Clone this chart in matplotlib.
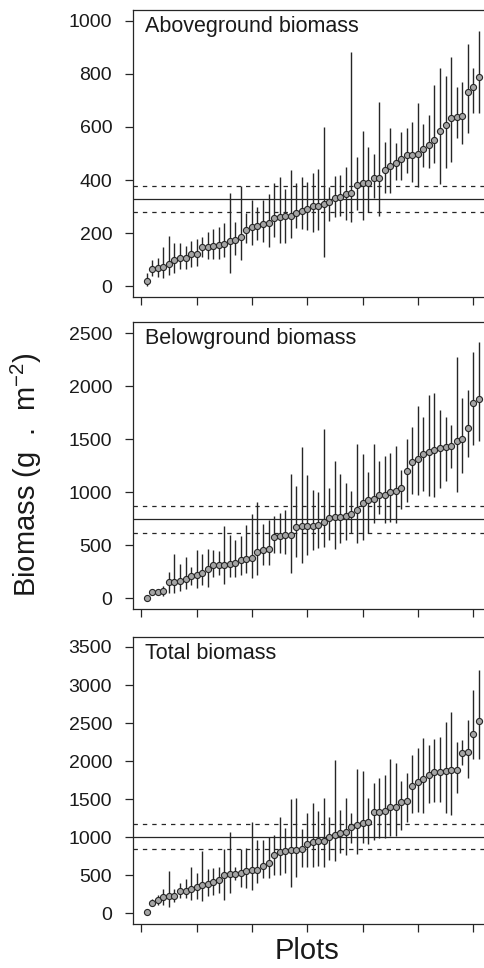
import numpy as np
import matplotlib
matplotlib.use("Agg")
import matplotlib.pyplot as plt

plt.rcParams['font.family'] = ['Liberation Sans', 'DejaVu Sans']
plt.rcParams['mathtext.fontset'] = 'custom'
plt.rcParams['mathtext.rm'] = 'Liberation Sans'

# ---- data ----
plots = list(range(1, 62))

above_mean = [19,63,69,72,84,98,106,106,121,122,
              147,148,152,156,157,171,174,186,211,221,
              228,234,236,258,262,265,265,274,283,292,
              303,303,311,317,332,336,347,350,382,387,
              390,409,409,438,454,464,481,493,496,499,
              517,533,551,585,606,634,639,642,730,752,787]
above_lo = [0,38,35,29,40,50,63,63,73,75,
            111,101,101,101,108,50,117,98,164,155,
            174,166,148,186,161,164,180,218,214,212,
            204,211,111,245,262,264,249,243,287,249,
            280,334,265,352,350,400,400,425,394,375,
            450,444,463,384,444,469,557,536,578,654,651]
above_hi = [48,98,107,148,189,161,164,151,171,179,
            184,204,214,221,236,350,243,379,277,325,
            297,325,347,387,413,365,438,390,413,394,
            428,440,601,375,416,418,450,884,488,586,
            526,498,693,544,595,538,580,597,617,692,
            610,644,758,821,793,863,752,771,912,821,960]

below_mean = [5,63,63,69,151,157,167,186,208,217,
              239,274,311,311,311,321,330,362,368,377,
              440,456,462,575,591,601,601,670,682,682,
              686,692,717,761,767,767,780,796,833,896,
              928,934,972,978,1006,1016,1044,1201,1289,1311,
              1358,1384,1399,1421,1431,1437,1484,1506,1610,1846,1884]
below_lo = [0,41,41,22,47,47,72,85,126,94,
            126,110,204,220,135,204,204,220,236,189,
            220,314,314,425,425,418,236,387,336,409,
            456,472,487,550,462,525,550,619,525,550,
            619,708,796,708,723,714,840,912,984,975,
            1016,965,959,1044,1110,1226,1006,1179,1330,1447,1487]
below_hi = [10,85,90,116,252,418,324,387,292,456,
            418,462,456,450,686,597,550,588,692,796,
            906,701,739,780,802,833,1173,1060,1431,1164,
            1022,1006,1597,1044,1299,1173,1091,1013,1453,1358,
            1189,1453,1299,1346,1368,1437,1211,1500,1613,1814,
            1714,1918,1934,1777,1708,1635,2274,1893,1965,2321,2415]

total_mean = [22,140,175,210,227,227,293,293,319,346,
              372,381,416,437,503,512,516,525,560,573,
              573,626,656,761,812,820,831,836,849,910,
              941,949,949,1006,1028,1050,1072,1129,1159,1190,
              1199,1330,1330,1347,1400,1400,1466,1474,1671,1732,
              1767,1824,1855,1859,1864,1877,1890,2113,2126,2354,2529]
total_lo = [0,96,109,109,87,153,197,197,175,184,
            162,227,241,271,175,262,437,350,328,306,
            394,459,459,503,503,525,350,472,613,604,
            613,621,604,700,691,787,766,919,779,927,
            910,962,984,984,1015,1015,1094,1203,1312,1334,
            1321,1452,1466,1466,1321,1291,1575,1947,1772,2034,2034]
total_hi = [45,184,241,315,560,315,394,446,604,534,
            822,578,599,604,840,1072,613,840,853,1203,
            963,963,1006,1028,1269,1116,1500,1522,1102,1312,
            1452,1347,1518,1260,2021,1356,1518,1321,1894,1872,
            1518,1715,1772,1816,2034,1969,1741,1846,2087,2166,
            2305,2209,2297,2319,2516,2647,2253,2275,2546,2931,3202]

# overall mean and confidence interval (mean, lower, upper)
above_ref = [328, 280, 378]
below_ref = [745, 619, 868]
total_ref = [1005, 848, 1172]

titles = ["Aboveground biomass", "Belowground biomass", "Total biomass"]
yticks = [list(range(0, 1001, 200)), list(range(0, 2501, 500)), list(range(0, 3501, 500))]
ylims = [(-40, 1041), (-101, 2604), (-140, 3635)]
xticks = [0, 10, 20, 30, 40, 50, 60]

# ---- figure ----
W, H = 484, 968
fig = plt.figure(figsize=(W/100, H/100), dpi=100)
fig.patch.set_facecolor('white')

left_px, right_px = 133, 492
panels_px = [(10, 296.7), (322.3, 609), (636.7, 924)]

series = [(above_mean, above_lo, above_hi, above_ref),
          (below_mean, below_lo, below_hi, below_ref),
          (total_mean, total_lo, total_hi, total_ref)]

dark = '#262626'
txt = '#1a1a1a'
for i, ((top, bot), (m, lo, hi, ref)) in enumerate(zip(panels_px, series)):
    ax = fig.add_axes([left_px/W, 1 - bot/H, (right_px-left_px)/W, (bot-top)/H])
    m = np.array(m, dtype=float)
    lo = np.array(lo, dtype=float)
    hi = np.array(hi, dtype=float)
    yerr = np.vstack([np.clip(m - lo, 0, None), np.clip(hi - m, 0, None)])
    ax.axhline(ref[0], color=dark, lw=0.9, zorder=1)
    ax.axhline(ref[1], color=dark, lw=0.9, ls=(0, (3.5, 4)), zorder=1)
    ax.axhline(ref[2], color=dark, lw=0.9, ls=(0, (3.5, 4)), zorder=1)
    ax.errorbar(plots, m, yerr=yerr, fmt='none', ecolor=dark, elinewidth=1.0,
                capsize=0, zorder=2)
    ax.plot(plots, m, 'o', ms=4.4, mfc='#a5a5a5', mec=dark, mew=0.8, zorder=3,
            clip_on=False)
    ax.set_xlim(-1.5, 63.4)
    ax.set_ylim(*ylims[i])
    ax.set_yticks(yticks[i])
    ax.set_yticklabels([str(t) for t in yticks[i]], fontsize=14, color=txt)
    ax.set_xticks(xticks)
    ax.set_xticklabels([])
    ax.tick_params(axis='both', direction='out', length=6, width=0.9, color=dark)
    ax.tick_params(axis='y', pad=9)
    for s in ax.spines.values():
        s.set_color(dark)
        s.set_linewidth(0.9)
    ax.text(12/359, 1 - 6/286.7, titles[i], transform=ax.transAxes,
            ha='left', va='top', fontsize=15.5, color=txt)

fig.text(26/W, 1 - 475/H, "Biomass (g  .  m$^{\\mathregular{-2}}$)", rotation=90,
         ha='center', va='center', fontsize=21, color=txt)
fig.text(307/W, 1 - 951/H, "Plots", ha='center', va='center', fontsize=21,
         color=txt)

fig.savefig('out.png', dpi=100, facecolor='white')
